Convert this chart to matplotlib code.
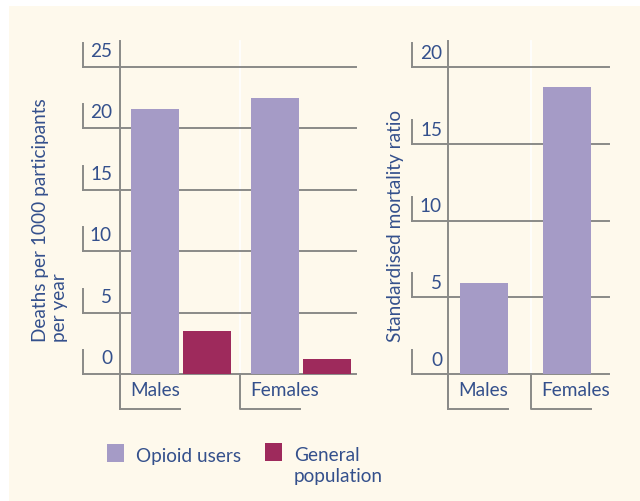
import numpy as np
import matplotlib.pyplot as plt
from matplotlib.patches import Rectangle

# data
groups = ['Males', 'Females']
deaths_opioid = [21.6, 22.5]
deaths_general = [3.5, 1.2]
smr_opioid = [5.9, 18.7]
left_ticks = [0, 5, 10, 15, 20, 25]
right_ticks = [0, 5, 10, 15, 20]
legend_labels = ['Opioid users', 'General\npopulation']

purple = '#a59bc6'
maroon = '#9e2a5c'
cream = '#fef9ec'
grey = '#8a8a88'
blue = '#34508c'
fs = 13.7

W, H = 640, 502
plt.rcParams['font.family'] = ['Lato', 'DejaVu Sans']
fig = plt.figure(figsize=(W / 100, H / 100), dpi=100, facecolor='white')
fig.patches.append(Rectangle((9 / W, 0), 1, 1 - 7 / H, transform=fig.transFigure,
                             facecolor=cream, edgecolor='none', zorder=-10))


def px_axes(l, r, top, bottom):
    return fig.add_axes([l / W, 1 - bottom / H, (r - l) / W, (bottom - top) / H])


def decorate(ax, ticks, ymax, x0px, x1px, xlim, grid_left_px, lab_right_px,
             lab_gap_px, brk_len, white_x):
    ax.set_xlim(*xlim)
    ax.set_ylim(0, ymax)
    ax.axis('off')
    ax.patch.set_alpha(0)
    pxu = 307 / ymax
    gl = (grid_left_px - x0px) / (x1px - x0px)
    tr = ax.get_yaxis_transform()
    for t in ticks:
        ax.axhline(t, xmin=gl, xmax=1, color=grey, lw=1.4, clip_on=False, zorder=1)
        ax.plot([gl, gl], [t, t + 24 / pxu], color=grey, lw=1.4, transform=tr,
                clip_on=False, zorder=1)
        ax.text((lab_right_px - x0px) / (x1px - x0px), t + lab_gap_px / pxu, str(t),
                transform=tr, ha='right', va='baseline', fontsize=fs, color=blue)
    # main vertical axis
    ax.plot([0, 0], [ymax + 26 / pxu, -35 / pxu], color=grey, lw=1.4,
            transform=tr, clip_on=False, zorder=1)
    # faint white separator
    ax.plot([white_x, white_x], [ymax + 26 / pxu, 0], color='white', lw=1.2,
            clip_on=False, zorder=0)
    # category brackets
    for i, g in enumerate(groups):
        bx = xlim[0] + i
        ax.plot([bx, bx, bx + brk_len], [0, -35 / pxu, -35 / pxu], color=grey, lw=1.4,
                clip_on=False, zorder=1)
        ax.text(bx + brk_len / 6, -16 / pxu, g, ha='left', va='center',
                fontsize=fs, color=blue)
    return pxu


# left panel: deaths per 1000
axl = px_axes(120, 356, 68, 375)
x = np.arange(len(groups))
axl.bar(x - 0.217, deaths_opioid, width=0.4, color=purple, zorder=2)
axl.bar(x + 0.217, deaths_general, width=0.4, color=maroon, zorder=2)
decorate(axl, left_ticks, 25, 120, 356, (-0.508, 1.458), 83, 112, 11, 0.5,
         1 - 0.508)
fig.text(50 / W, 1 - 342 / H, 'Deaths per 1000 participants\nper year', rotation=90,
         ha='center', va='bottom', multialignment='left', fontsize=fs, color=blue,
         linespacing=1.15)

# right panel: SMR
axr = px_axes(448, 609, 68, 375)
axr.bar(x, smr_opioid, width=0.578, color=purple, zorder=2)
decorate(axr, right_ticks, 20, 448, 609, (-0.434, 1.506), 412, 442, 9, 0.723,
         1 - 0.434)
fig.text(395 / W, 1 - 342 / H, 'Standardised mortality ratio', rotation=90,
         ha='center', va='bottom', fontsize=fs, color=blue)

# legend
for (sx, sy, ty), lab, col in zip([(107, 445, 462), (265, 444, 482)], legend_labels,
                                  [purple, maroon]):
    fig.patches.append(Rectangle((sx / W, 1 - (sy + 18) / H), 17 / W, 18 / H,
                                 transform=fig.transFigure, facecolor=col,
                                 edgecolor='none'))
    fig.text((sx + 29) / W, 1 - ty / H, lab, ha='left', va='baseline', fontsize=fs,
             color=blue, linespacing=1.25)

fig.savefig('out.png', dpi=100, facecolor=fig.get_facecolor())
